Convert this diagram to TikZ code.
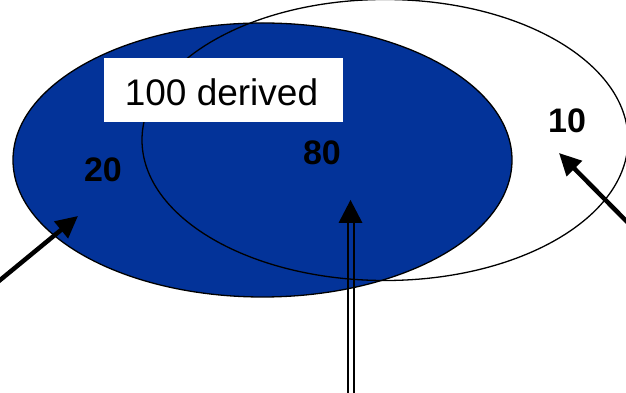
\documentclass[tikz,border=0pt]{standalone}
\usepackage{fontspec}
\setmainfont{Liberation Sans}
\usetikzlibrary{arrows.meta,shapes.geometric}
\definecolor{vblue}{RGB}{3,51,153}
\begin{document}
\begin{tikzpicture}[x=1pt,y=1pt,
  setshape/.style={ellipse, inner sep=0pt, line width=1.3pt, draw=black},
  numlabel/.style={font=\bfseries\fontsize{34}{40}\selectfont},
  bigarrow/.style={line width=4.5pt, -{Triangle[length=22pt,width=21pt]}}]
\useasboundingbox (0,0) rectangle (626,393);
\clip (0,0) rectangle (626,393);
\node[setshape, fill=vblue, minimum width=499pt, minimum height=274pt] (blue) at (262.5,233) {};
\node[setshape, minimum width=486pt, minimum height=281pt] (white) at (385,253) {};
\node[fill=white, minimum width=239pt, minimum height=64pt, inner sep=0pt] (lbl) at (223.5,303) {};
\node[font=\fontsize{37}{40}\selectfont, inner sep=0pt] (lbltext) at ([xshift=-2pt,yshift=-2pt]lbl.center) {100 derived};
\node[numlabel] (n20) at (103,223) {20};
\node[numlabel] (n80) at (322,240) {80};
\node[numlabel] (n10) at (567,272) {10};
\coordinate (la) at (-12,103);
\coordinate (lt) at (78,177);
\coordinate (ra) at (645,153);
\coordinate (rt) at (559,240);
\draw[bigarrow] (la) -- (lt);
\draw[bigarrow] (ra) -- (rt);
\coordinate (dbot) at (350.5,-5);
\coordinate (dtop) at (350.5,193);
\draw[line width=2pt] ([xshift=-3pt]dbot) -- ([xshift=-3pt,yshift=-22pt]dtop);
\draw[line width=2pt] ([xshift=3pt]dbot) -- ([xshift=3pt,yshift=-22pt]dtop);
\fill (dtop) -- ([xshift=-12pt,yshift=-23pt]dtop) -- ([xshift=12pt,yshift=-23pt]dtop) -- cycle;
\end{tikzpicture}
\end{document}
